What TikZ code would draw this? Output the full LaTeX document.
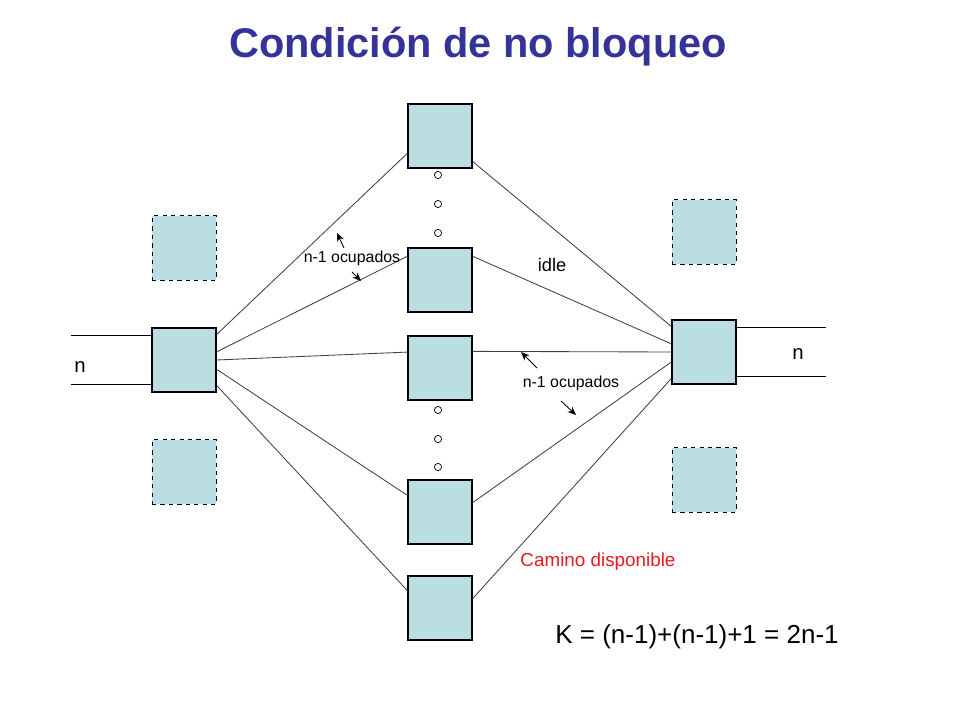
\documentclass[tikz,border=0pt]{standalone}
\usepackage{fontspec}
\setmainfont{Liberation Sans}
\usetikzlibrary{arrows.meta}
\definecolor{swfill}{RGB}{186,222,226}
\definecolor{titul}{RGB}{51,51,153}
\definecolor{camino}{RGB}{232,24,32}
\begin{document}
\begin{tikzpicture}[x=0.025cm, y=-0.025cm, >={Stealth[length=6pt,width=5pt]},
    sw/.style={draw, fill=swfill, line width=0.9pt, minimum size=1.6cm, inner sep=0pt},
    spare/.style={sw, dashed, line width=0.7pt},
    link/.style={draw=black!75, line width=0.6pt},
    dot/.style={circle, draw, fill=white, line width=0.5pt, minimum size=0.18cm, inner sep=0pt},
    small/.style={font=\fontsize{11.3}{13}\selectfont}]
\useasboundingbox (0,0) rectangle (960,720);
\node[titul, font=\fontsize{29.5}{33}\selectfont\bfseries] (title) at (478,47) {Condición de no bloqueo};

\node[sw] (L) at (184,360) {};
\node[spare] (Lt) at (184,248) {};
\node[spare] (Lb) at (184,472) {};
\foreach \n/\y in {1/136, 2/280, 3/368, 4/512, 5/608}
    \node[sw] (M\n) at (440,\y) {};
\node[sw] (R) at (704,352) {};
\node[spare] (Rt) at (704,232) {};
\node[spare] (Rb) at (704,480) {};
\foreach \y in {175,204,233,410,439,467}
    \node[dot] (d\y) at (438,\y) {};

\foreach \n/\a/\b in {1/38/208, 2/14/144, 3/0/154, 4/-16/153, 5/-38/152}
    \draw[link] (L.\a) -- (M\n.\b);
\foreach \n/\a/\b in {1/-38/142, 2/36/166, 3/27/180, 4/16/197, 5/16/219}
    \draw[link] (M\n.\a) -- (R.\b);

\draw[line width=0.8pt] (L.143) -- ++(-80,0);
\draw[line width=0.8pt] (L.217) -- ++(-80,0);
\draw[line width=0.8pt] (R.37) -- ++(89,0);
\draw[line width=0.8pt] (R.-37) -- ++(89,0);
\node[font=\fontsize{14.5}{17}\selectfont] (nL) at (80,367) {n};
\node[font=\fontsize{14.5}{17}\selectfont] (nR) at (798,354) {n};

\node[small] (occ1) at (352,258) {n-1 ocupados};
\draw[->, line width=0.6pt] (occ1) ++(-8,-10) -- ++(-7,-15);
\draw[->, line width=0.6pt] (occ1) ++(0,14) -- ++(9,9);
\node[font=\fontsize{13}{15}\selectfont] (idle) at (552,265) {idle};
\node[small] (occ2) at (571,383) {n-1 ocupados};
\draw[->, line width=0.6pt] (occ2) ++(-34,-15) -- ++(-16,-16);
\draw[->, line width=0.6pt] (occ2) ++(-10,18) -- ++(15,14);
\node[camino, font=\fontsize{13.4}{16}\selectfont] (cam) at (598,562) {Camino disponible};
\node[font=\fontsize{18.5}{22}\selectfont] (K) at (697,637) {K = (n-1)+(n-1)+1 = 2n-1};
\end{tikzpicture}
\end{document}
